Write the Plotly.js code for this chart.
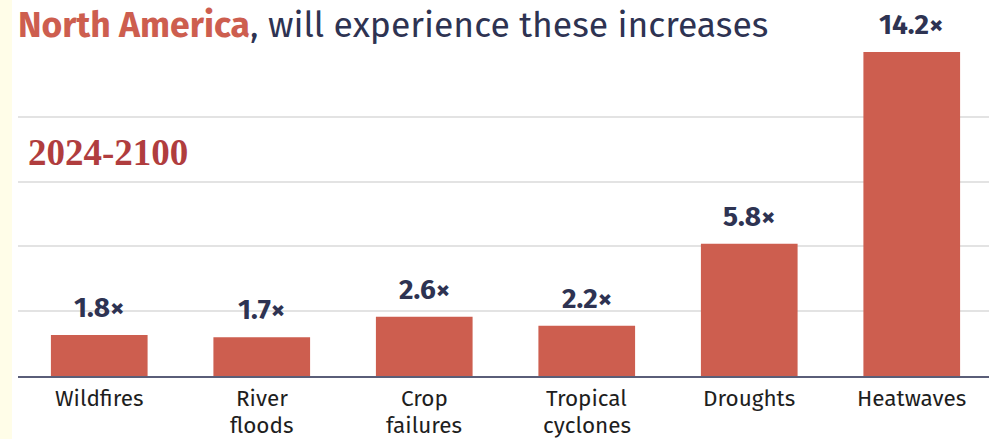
<!DOCTYPE html>
<html>
<head>
<meta charset="utf-8">
<script src="https://cdn.plot.ly/plotly-3.0.1.min.js"></script>
<style>
  html, body { margin: 0; padding: 0; background: #fffde8; width: 989px; height: 439px; overflow: hidden; }
  #chart { position: absolute; left: 12px; top: 0; width: 981px; height: 439px; background: #fff; }
</style>
</head>
<body>
<div id="chart"></div>
<script>
const categories = ["Wildfires", "River<br>floods", "Crop<br>failures", "Tropical<br>cyclones", "Droughts", "Heatwaves"];
const increases = [1.8, 1.7, 2.6, 2.2, 5.8, 14.2];
const valueLabels = ["1.8×", "1.7×", "2.6×", "2.2×", "5.8×", "14.2×"];
const titleRegion = "North America";
const titleRest = ", will experience these increases";
const periodLabel = "2024-2100";

const barColor = "#cd5e4f";
const navy = "#2e3352";
const fontFam = "'Fira Sans', 'Open Sans', 'Noto Sans', sans-serif";
const yMax = Math.max(...increases);

const trace = {
  type: "bar",
  x: categories,
  y: increases,
  marker: { color: barColor },
  width: 0.595,
  hoverinfo: "none"
};

const annotations = categories.map((c, i) => ({
  x: c, y: increases[i], xref: "x", yref: "y",
  text: "<b>" + valueLabels[i] + "</b>",
  showarrow: false, yanchor: "bottom", yshift: 9,
  font: { family: fontFam, size: 28, color: navy }
}));

// category labels, one annotation per line for tight line spacing
categories.forEach(c => {
  c.split("<br>").forEach((line, j) => {
    annotations.push({
      x: c, xref: "x", y: 0, yref: "paper",
      text: line, showarrow: false, yanchor: "middle",
      yshift: -22.5 - 26.5 * j,
      font: { family: fontFam, size: 22.5, color: "#1e1e1e" }
    });
  });
});

annotations.push({
  xref: "paper", yref: "paper", x: 0.0082, y: 0.69,
  xanchor: "left", yanchor: "middle",
  text: "<b>" + periodLabel + "</b>", showarrow: false,
  font: { family: "'Liberation Serif', 'Times New Roman', serif", size: 37, color: "#b03d3e" }
});

const layout = {
  width: 981, height: 439,
  margin: { l: 6, r: 0, t: 52, b: 63 },
  paper_bgcolor: "#ffffff",
  plot_bgcolor: "#ffffff",
  showlegend: false,
  title: {
    text: "<b><span style='color:" + barColor + "'>" + titleRegion + "</span></b>" + titleRest,
    x: 6 / 981, xanchor: "left", xref: "container",
    y: 1 - 25 / 439, yanchor: "middle", yref: "container",
    font: { family: fontFam, size: 35.5, color: navy }
  },
  xaxis: {
    showline: true, linecolor: "#5a5e78", linewidth: 2,
    ticks: "", showgrid: false, showticklabels: false,
    fixedrange: true
  },
  yaxis: {
    range: [0, yMax], dtick: yMax / 5, tick0: 0,
    showgrid: true, gridcolor: "#e3e3e3", gridwidth: 2,
    zeroline: false, showticklabels: false, ticks: "",
    fixedrange: true
  },
  annotations: annotations
};

Plotly.newPlot("chart", [trace], layout, { displayModeBar: false, staticPlot: true });
</script>
</body>
</html>
